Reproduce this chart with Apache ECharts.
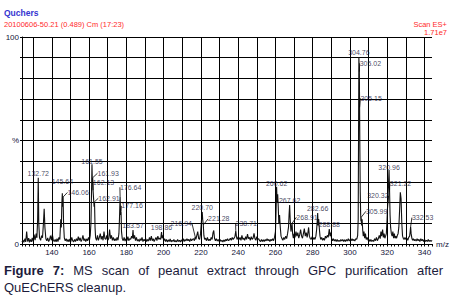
<!DOCTYPE html>
<html lang="en">
  <head>
    <meta charset="UTF-8" />
    <title>MS scan</title>
    <script src="https://cdn.jsdelivr.net/npm/echarts@6/dist/echarts.min.js"></script>
    <style>
      body { margin: 0; background: #fff; }
      #main { position: absolute; left: 0; top: 0; width: 453px; height: 301px; }
      #cap {
        position: absolute; left: 4px; top: 263px; width: 439px;
        font: 13px "Liberation Sans", Arial, sans-serif; color: #1c1c3c; line-height: 16.5px;
      }
      #cap .l1 { text-align: justify; text-align-last: justify; }
    </style>
  </head>
  <body>
    <div id="main"></div>
    <div id="cap">
      <div class="l1"><b>Figure 7:</b> MS scan of peanut extract through GPC purification after</div>
      <div>QuEChERS cleanup.</div>
    </div>

    <script>
      // spectrum trace: [m/z, relative intensity %]
      const trace = [
        [124, 1.0], [124.5, 2.0], [125, 0.8], [125.6, 2.6], [126, 1.0], [126.5, 6.0], [127, 1.2], [127.6, 2.8], [128, 0.8], [128.5, 2.2], [129, 1.0], [129.5, 3.0],
        [130, 1.2], [130.5, 4.5], [131, 1.8], [131.6, 5.0], [132, 3.0], [132.4, 12], [132.72, 32], [133, 10], [133.4, 3.0], [134, 1.8], [134.5, 4.0], [135, 3.0], [135.5, 10], [135.9, 17], [136.3, 8.0], [136.8, 2.5], [137.3, 1.5], [137.8, 3.0], [138.3, 1.2], [138.8, 2.2], [139.3, 4.0], [139.8, 1.8],
        [140.3, 4.5], [140.8, 1.8], [141.3, 1.2], [141.8, 2.2], [142.3, 1.0], [142.8, 2.6], [143.3, 1.2], [143.8, 3.2], [144.3, 2.2], [144.8, 12], [145.1, 8.0], [145.4, 20], [145.64, 24.5], [145.85, 18], [146.06, 22.7], [146.3, 10], [146.7, 3.0], [147.2, 1.5], [147.7, 2.6], [148.2, 1.2], [148.7, 2.2], [149.2, 1.0], [149.7, 2.5],
        [150.2, 1.2], [150.7, 3.2], [151.2, 1.6], [151.7, 1.0], [152.2, 2.2], [152.7, 1.2], [153.2, 2.6], [153.7, 1.5], [154.2, 3.6], [154.7, 1.6], [155.2, 3.0], [155.7, 1.2], [156.2, 2.2], [156.7, 4.2], [157.2, 1.6], [157.7, 2.6], [158.2, 1.2], [158.7, 2.5], [159.2, 1.5], [159.7, 3.2],
        [160.2, 1.8], [160.6, 4.0], [161, 10], [161.3, 25], [161.55, 38.5], [161.75, 30], [161.93, 32], [162.13, 26], [162.4, 22], [162.7, 18], [162.91, 20.4], [163.2, 8.0], [163.5, 3.0], [164, 1.8], [164.5, 4.2], [165, 1.8], [165.5, 3.2], [166, 5.0], [166.5, 2.2], [167, 3.8], [167.5, 1.8], [168, 6.0], [168.5, 2.6], [169, 2.2], [169.5, 4.2],
        [170, 1.8], [170.5, 2.6], [171, 7.0], [171.5, 2.6], [172, 4.2], [172.5, 1.8], [173, 3.2], [173.5, 1.6], [174, 2.6], [174.5, 1.6], [175, 3.2], [175.5, 1.8], [176, 5.0], [176.3, 12], [176.64, 22.8], [176.9, 14], [177.16, 15.5], [177.4, 6.0], [177.8, 2.6], [178.3, 1.6], [178.8, 3.2], [179.3, 1.4], [179.8, 2.6],
        [180.3, 1.6], [180.8, 3.6], [181.3, 1.6], [181.8, 2.6], [182.3, 2.2], [182.8, 3.8], [183.2, 2.8], [183.57, 6.8], [183.9, 2.6], [184.4, 4.2], [184.9, 1.6], [185.4, 3.2], [185.9, 1.4], [186.4, 2.2], [186.9, 1.2], [187.4, 2.6], [187.9, 1.6], [188.4, 3.2], [188.9, 1.2], [189.4, 2.2], [189.9, 1.6],
        [190.4, 2.6], [190.9, 1.2], [191.4, 2.2], [191.9, 1.4], [192.4, 3.2], [192.9, 1.6], [193.4, 3.8], [193.9, 1.6], [194.4, 2.6], [194.9, 1.2], [195.4, 2.2], [195.9, 3.2], [196.4, 1.6], [196.9, 3.8], [197.4, 2.2], [197.9, 2.8], [198.4, 2.2], [198.86, 5.8], [199.2, 2.8], [199.6, 4.2],
        [200, 1.6], [200.5, 2.6], [201, 1.2], [201.5, 2.2], [202, 1.0], [202.5, 2.0], [203, 1.2], [203.5, 2.5], [204, 1.0], [204.5, 1.8], [205, 1.2], [205.5, 2.2], [206, 1.0], [206.5, 1.6], [207, 1.0], [207.5, 2.2], [208, 1.2], [208.5, 1.8], [209, 1.0], [209.5, 2.0],
        [210, 1.2], [210.5, 2.6], [211, 1.2], [211.5, 2.2], [212, 1.5], [212.5, 2.6], [213, 1.6], [213.5, 2.2], [214, 1.2], [214.5, 2.6], [215, 1.6], [215.5, 2.2], [216, 2.6], [216.5, 1.6], [216.94, 3.5], [217.3, 2.2], [217.8, 4.2], [218.3, 6.0], [218.8, 2.6], [219.3, 2.2], [219.8, 5.0],
        [220.2, 10], [220.5, 14], [220.7, 15.5], [220.95, 12], [221.28, 9.2], [221.6, 4.0], [222, 2.2], [222.5, 2.8], [223, 1.6], [223.5, 3.2], [224, 1.6], [224.5, 2.2], [225, 1.6], [225.5, 3.2], [226, 2.2], [226.5, 5.5], [226.9, 6.5], [227.3, 2.8], [227.8, 1.6], [228.3, 2.6], [228.8, 1.4], [229.3, 2.2], [229.8, 1.2],
        [230.3, 2.2], [230.8, 1.2], [231.3, 1.8], [231.8, 1.0], [232.3, 2.0], [232.8, 1.2], [233.3, 2.2], [233.8, 1.6], [234.3, 2.6], [234.8, 1.6], [235.3, 2.0], [235.8, 2.8], [236.3, 1.8], [236.8, 3.2], [237.3, 2.2], [237.8, 2.8], [238.3, 3.8], [238.71, 6.4], [239.1, 3.2], [239.5, 2.2],
        [240, 3.6], [240.5, 2.2], [241, 3.2], [241.5, 1.8], [242, 4.2], [242.5, 2.2], [243, 2.8], [243.5, 1.8], [244, 3.6], [244.5, 2.2], [245, 4.8], [245.5, 2.6], [246, 3.2], [246.5, 1.8], [247, 3.6], [247.5, 2.2], [248, 2.8], [248.5, 5.2], [249, 2.6], [249.5, 1.8],
        [250, 3.6], [250.5, 2.2], [251, 2.6], [251.5, 1.6], [252, 1.2], [252.5, 2.2], [253, 1.2], [253.5, 2.0], [254, 1.2], [254.5, 2.2], [255, 1.5], [255.5, 2.6], [256, 1.6], [256.5, 2.2], [257, 1.2], [257.5, 2.2], [258, 1.6], [258.5, 2.6], [259, 1.6], [259.5, 3.2],
        [260, 6.0], [260.3, 15], [260.62, 27.7], [260.9, 20], [261.2, 24], [261.5, 18], [261.8, 10], [262.2, 14], [262.6, 8.0], [263, 3.8], [263.5, 2.6], [264, 1.8], [264.5, 3.2], [265, 2.2], [265.5, 3.8], [266, 2.6], [266.5, 5.0], [267, 8.0], [267.3, 14], [267.62, 18.8], [267.9, 12], [268.3, 6.0], [268.6, 8.0], [268.91, 10], [269.2, 5.0], [269.6, 2.8],
        [270, 5.0], [270.5, 3.2], [271, 6.0], [271.5, 3.8], [272, 5.5], [272.5, 2.8], [273, 4.5], [273.5, 7.0], [274, 3.8], [274.5, 2.8], [275, 5.0], [275.5, 7.5], [276, 3.8], [276.5, 5.5], [277, 3.2], [277.5, 6.0], [277.8, 8.0], [278.2, 3.8], [278.7, 2.6], [279.2, 2.2], [279.7, 3.6],
        [280.2, 2.2], [280.7, 3.2], [281.2, 2.2], [281.7, 3.8], [282.1, 7.0], [282.4, 11], [282.66, 15], [282.9, 9.0], [283.2, 12], [283.5, 8.0], [283.9, 3.8], [284.3, 2.2], [284.8, 3.2], [285.3, 1.8], [285.8, 2.8], [286.3, 1.8], [286.8, 3.8], [287.3, 2.8], [287.8, 4.2], [288.3, 3.2], [288.88, 7.2], [289.3, 3.8], [289.7, 5.5],
        [290.1, 2.8], [290.6, 1.6], [291.1, 2.6], [291.6, 1.4], [292.1, 2.2], [292.6, 1.2], [293.1, 2.2], [293.6, 1.2], [294.1, 1.8], [294.6, 1.2], [295.1, 2.2], [295.6, 1.4], [296.1, 2.2], [296.6, 1.2], [297.1, 2.0], [297.6, 1.2], [298.1, 2.2], [298.6, 1.4], [299.1, 2.6], [299.6, 1.4],
        [300.1, 2.2], [300.6, 1.6], [301.1, 2.6], [301.6, 1.6], [302.1, 2.2], [302.6, 1.4], [303.1, 2.6], [303.6, 2.2], [304.1, 4.0], [304.4, 12], [304.6, 55], [304.76, 90.3], [304.9, 86], [305.02, 83.2], [305.15, 66], [305.3, 45], [305.5, 25], [305.7, 15], [305.85, 11], [305.99, 12.9], [306.2, 9.0], [306.5, 12], [306.8, 7.0], [307.1, 3.8], [307.5, 6.0], [307.9, 2.8], [308.3, 5.0], [308.7, 2.2], [309.2, 3.2], [309.7, 1.8],
        [310.2, 2.2], [310.7, 1.2], [311.2, 2.2], [311.7, 1.2], [312.2, 1.8], [312.7, 1.2], [313.2, 2.6], [313.7, 1.6], [314.2, 3.2], [314.7, 1.6], [315.2, 2.6], [315.7, 4.2], [316.2, 2.6], [316.6, 6.0], [317, 3.8], [317.5, 7.0], [317.9, 3.2], [318.3, 5.0], [318.7, 2.8], [319.1, 3.8], [319.5, 5.0], [319.9, 12],
        [320.1, 17], [320.32, 19.7], [320.6, 28], [320.96, 35.7], [321.1, 30], [321.22, 26], [321.5, 14], [321.8, 8.0], [322.2, 5.0], [322.6, 3.8], [323, 6.0], [323.4, 2.8], [323.8, 5.0], [324.2, 2.8], [324.6, 3.8], [325, 2.8], [325.4, 4.2], [325.8, 5.0], [326.2, 8.0], [326.6, 16], [327, 25], [327.4, 22], [327.8, 10], [328.2, 3.8], [328.6, 2.8], [329, 2.2], [329.5, 3.2],
        [330, 2.2], [330.5, 2.8], [331, 1.8], [331.5, 3.2], [332, 3.8], [332.3, 6.0], [332.53, 8.4], [332.8, 5.0], [333.2, 2.8], [333.6, 1.8], [334, 2.6], [334.5, 1.6], [335, 2.2], [335.5, 1.4], [336, 2.6], [336.5, 1.6], [337, 2.2], [337.5, 1.2], [338, 2.6], [338.5, 1.6], [339, 2.2], [339.5, 1.2],
        [340, 2.2], [340.5, 1.2], [341, 1.8], [341.5, 1.2], [342, 2.2], [342.5, 1.2], [343, 1.8], [343.5, 1.2], [344, 1.8]
      ];

      // labelled peaks (m/z)
      const peakMz = [
        132.72, 145.64, 146.06, 161.55, 161.93, 162.13, 162.91, 176.64, 177.16, 183.57,
        198.86, 216.94, 220.7, 221.28, 238.71, 260.62, 267.62, 268.91, 282.66, 288.88,
        304.76, 305.02, 305.15, 305.99, 320.96, 320.32, 321.22, 332.53
      ];

      // vertical grid lines and x labels
      const gridMz = [130, 140, 150, 160, 170, 180, 190, 200, 210, 220, 230, 240, 250, 260, 270, 280, 290, 300, 310, 320, 330, 340];
      const xLabels = [140, 160, 180, 200, 220, 240, 260, 280, 300, 320, 340];

      // label offsets from the peak top, px
      const labelShift = [
        [0, 0], [0, -7], [15, 0], [0, 1.5], [15.5, 0], [10.5, -3.5], [14.5, 1], [10.5, -5], [11, -1.5], [0, 0],
        [0, 0], [-14, -9], [0, 0], [15.5, -1.5], [10.5, -3], [0, 1], [0, 0], [15, -1.5], [0, 0], [0, 0],
        [0, 0], [11, -4], [11.5, -4.5], [15.5, -1.5], [0, 1.5], [-10, -3], [11, -2.5], [12, -4.5]
      ];

      const textCol = "#14143a";
      const chart = echarts.init(document.getElementById("main"), null, { renderer: "svg" });

      const peakData = peakMz.map((mz, i) => {
        const pt = trace.find((p) => p[0] === mz);
        return {
          value: [mz, pt[1]],
          labelLine: { show: labelShift[i][0] !== 0 },
        };
      });

      const option = {
        animation: false,
        title: [
          { text: "Quchers", left: 4, top: 8, padding: 0, textStyle: { color: "#3535d0", fontSize: 8.5, fontWeight: "bold", fontFamily: "Liberation Sans" } },
          { text: "20100606-50.21 (0.489) Cm (17:23)", left: 4, top: 20, padding: 0, textStyle: { color: "#ff2a2a", fontSize: 7.5, fontWeight: "normal", fontFamily: "Liberation Sans" } },
          { text: "Scan ES+", right: 6, top: 20, padding: 0, textStyle: { color: "#ff2a2a", fontSize: 7.5, fontWeight: "normal", fontFamily: "Liberation Sans" } },
          { text: "1.71e7", right: 6, top: 28.5, padding: 0, textStyle: { color: "#ff2a2a", fontSize: 7.5, fontWeight: "normal", fontFamily: "Liberation Sans" } },
        ],
        grid: { left: 22, right: 21, top: 37, bottom: 57 },
        xAxis: {
          type: "value",
          min: 124,
          max: 344,
          interval: 2,
          name: "m/z",
          nameLocation: "end",
          nameGap: 4,
          nameTextStyle: { color: textCol, fontSize: 8, fontFamily: "Liberation Sans", padding: [5, 0, 0, 0] },
          axisLine: { lineStyle: { color: "#000", width: 1 } },
          axisTick: { length: 2.5, lineStyle: { color: "#000" } },
          axisLabel: {
            margin: 4.5,
            fontSize: 8,
            color: textCol,
            fontFamily: "Liberation Sans",
            formatter: (v) => (xLabels.includes(v) ? String(v) : ""),
          },
          splitLine: { show: false },
        },
        yAxis: {
          type: "value",
          min: 0,
          max: 100,
          interval: 10,
          axisLine: { show: true, lineStyle: { color: "#000", width: 1 } },
          axisTick: { show: true, length: 2, lineStyle: { color: "#000" } },
          axisLabel: {
            margin: 3,
            fontSize: 8,
            color: textCol,
            fontFamily: "Liberation Sans",
            formatter: (v) => (v === 100 ? "100" : v === 50 ? "%" : v === 0 ? "0" : ""),
          },
          splitLine: { show: true, lineStyle: { color: "#000", width: 1 } },
        },
        series: [
          {
            type: "line",
            data: trace,
            showSymbol: false,
            lineStyle: { color: "#111", width: 1.1 },
            markLine: {
              silent: true,
              symbol: "none",
              label: { show: false },
              lineStyle: { color: "#000", width: 1, type: "solid" },
              data: gridMz.map((v) => ({ xAxis: v })),
            },
          },
          {
            type: "scatter",
            data: peakData,
            symbol: "circle",
            symbolSize: 0.1,
            itemStyle: { color: "rgba(0,0,0,0)" },
            label: {
              show: true,
              position: "top",
              distance: 1,
              fontSize: 7,
              color: textCol,
              fontFamily: "Liberation Sans",
              formatter: (p) => p.value[0].toFixed(2),
            },
            labelLine: { lineStyle: { color: "#000", width: 0.8 } },
            labelLayout: (p) => ({ dx: labelShift[p.dataIndex][0], dy: labelShift[p.dataIndex][1] }),
            z: 5,
          },
        ],
      };

      chart.setOption(option);
    </script>
  </body>
</html>
